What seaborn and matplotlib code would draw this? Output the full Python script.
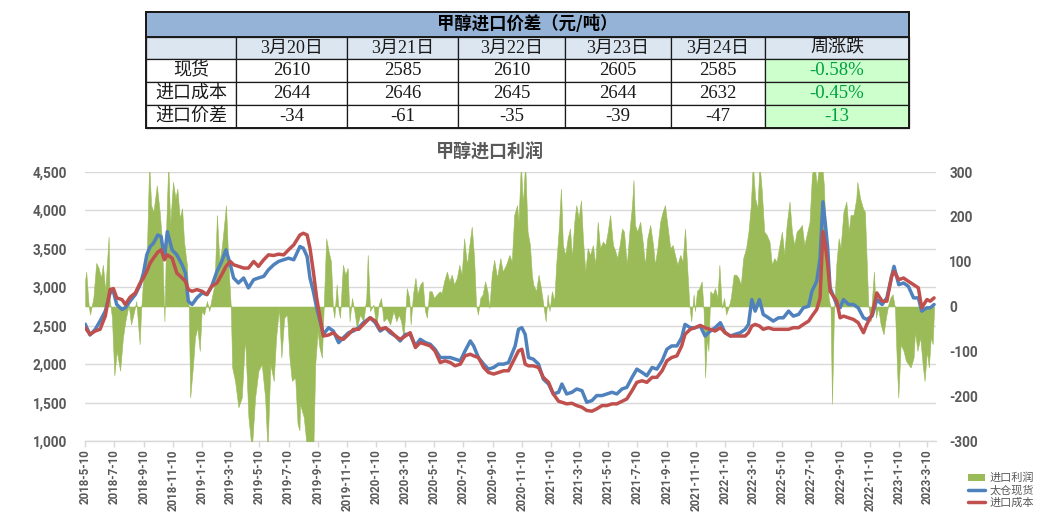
import numpy as np
import pandas as pd
import matplotlib
matplotlib.use('Agg')
import matplotlib.pyplot as plt
import matplotlib.dates as mdates
from matplotlib.patches import Rectangle
from matplotlib.lines import Line2D
from matplotlib.ticker import FuncFormatter, FixedLocator
import seaborn as sns

# ---------------- table data ----------------
table_title = '甲醇进口价差（元/吨）'
hdr_dates = ['3月20日', '3月21日', '3月22日', '3月23日', '3月24日']
hdr_chg = '周涨跌'
row_names = ['现货', '进口成本', '进口价差']
spot_vals = [2610, 2585, 2610, 2605, 2585]
cost_vals = [2644, 2646, 2645, 2644, 2632]
spread_vals = [-34, -61, -35, -39, -47]
week_chg = ['-0.58%', '-0.45%', '-13']

# ---------------- chart data ----------------
chart_title = '甲醇进口利润'
start_date = '2018-05-10'
legend_names = ['进口利润', '太仓现货', '进口成本']

# days after start_date for the two price lines
line_day = [0, 10, 21, 31, 42, 52, 59, 66, 77, 84, 94, 105, 115, 122, 129, 136, 143, 152, 159, 166,
            172, 182, 192, 203, 210, 216, 224, 234, 245, 255, 265, 276, 286, 295, 304, 311, 321, 332, 342, 353,
            363, 374, 384, 395, 405, 416, 426, 437,
            450, 457, 465, 471, 478, 485, 492, 499, 510, 520, 531, 541, 552, 562, 573, 583, 597, 608, 618, 629,
            639, 650, 660, 671, 681, 692, 702, 713, 723, 733, 744, 754, 765, 775, 786, 796, 807, 814, 824, 835,
            845, 856, 866, 877, 887,
            901, 908, 915, 922, 929, 939, 950, 960, 971, 981, 992, 999, 1009, 1020, 1030, 1041, 1051, 1062, 1072, 1083,
            1093, 1104, 1114, 1125, 1135, 1146, 1156, 1167, 1177, 1188, 1198, 1209, 1219, 1229, 1240, 1250, 1257, 1268,
            1278, 1289, 1299, 1310,
            1320, 1331, 1341, 1352, 1362, 1373, 1383, 1390, 1397, 1404, 1413, 1421, 1432, 1442, 1453, 1463, 1474, 1484,
            1495, 1505, 1516, 1523, 1533, 1540, 1546, 1551, 1556, 1561, 1568, 1575, 1582, 1589, 1600, 1610, 1620, 1631,
            1638, 1649, 1659, 1670, 1680, 1690, 1695, 1705, 1715, 1725, 1736, 1746, 1753, 1764, 1771, 1779]

spot = [2520, 2379, 2453, 2560, 2690, 2927, 2948, 2776, 2711, 2733, 2819, 2905, 3034, 3185, 3422, 3530, 3573, 3681, 3659, 3379,
        3724, 3487, 3422, 3293, 3185, 2819, 2776, 2862, 2927, 2905, 3013, 3207, 3336, 3487, 3293, 3121, 3056, 3121, 2992, 3099,
        3121, 3142, 3228, 3293, 3336, 3358, 3379, 3358,
        3530, 3509, 3401, 3121, 2948, 2733, 2560, 2388, 2474, 2431, 2280, 2345, 2409, 2431, 2474, 2539, 2603, 2539, 2431, 2474,
        2409, 2366, 2302, 2388, 2388, 2237, 2323, 2280, 2259, 2194, 2086, 2086, 2086, 2065, 2043, 2172, 2302, 2237, 2086, 2000,
        1935, 1957, 2000, 2000, 2021,
        2237, 2453, 2474, 2388, 2086, 2065, 2000, 1806, 1741, 1612, 1634, 1741, 1612, 1634, 1677, 1655, 1504, 1526, 1591, 1591,
        1612, 1634, 1612, 1677, 1698, 1828, 1935, 1892, 1849, 1957, 1935, 2043, 2194, 2237, 2237, 2345, 2517, 2474,
        2474, 2496, 2366, 2431,
        2474, 2539, 2409, 2366, 2388, 2409, 2453, 2517, 2840, 2690, 2840, 2647, 2603, 2560, 2603, 2603, 2690, 2625,
        2647, 2733, 2754, 2948, 3078, 3379, 4112, 3832, 3509, 2992, 2884, 2776, 2733, 2840, 2776, 2776, 2733, 2603,
        2582, 2625, 2840, 2776, 2862, 3142, 3272, 3034, 3056, 3013, 2862, 2862, 2690, 2733, 2733, 2776]

cost = [2474, 2388, 2431, 2453, 2625, 2970, 2983, 2862, 2840, 2776, 2871, 2927, 3056, 3121, 3207, 3315, 3379, 3457, 3487, 3358,
        3422, 3379, 3185, 3121, 3078, 2970, 2948, 2970, 2948, 2905, 3013, 3056, 3164, 3272, 3336, 3293, 3272, 3250, 3250, 3336,
        3272, 3358, 3422, 3414, 3431, 3422, 3487, 3552,
        3681, 3703, 3681, 3509, 3207, 2862, 2603, 2366, 2379, 2409, 2345, 2323, 2388, 2453, 2453, 2517, 2603, 2560, 2453, 2474,
        2431, 2366, 2323, 2366, 2409, 2216, 2280, 2259, 2237, 2172, 2021, 2043, 2021, 1979, 2000, 2108, 2129, 2108, 2086, 1957,
        1892, 1871, 1892, 1914, 1914,
        2086, 2172, 2194, 2000, 1978, 1978, 1957, 1828, 1763, 1612, 1517, 1504, 1483, 1491, 1461, 1439, 1397, 1388, 1418, 1461,
        1461, 1483, 1483, 1517, 1547, 1655, 1763, 1784, 1763, 1828, 1828, 1914, 2043, 2086, 2108, 2237, 2388, 2453,
        2474, 2504, 2474, 2453,
        2431, 2474, 2409, 2366, 2366, 2366, 2366, 2409, 2496, 2517, 2496, 2453, 2474, 2453, 2453, 2453, 2453, 2474,
        2474, 2517, 2560, 2625, 2711, 2862, 3724, 3552, 3293, 2948, 2884, 2819, 2603, 2625, 2603, 2582, 2539, 2409,
        2517, 2647, 2927, 2819, 2819, 3142, 3207, 3099, 3121, 3078, 3034, 2992, 2733, 2840, 2819, 2862]

# days after start_date for the import profit (right axis)
profit_day = [0, 2, 7, 10, 17, 23, 28, 33, 37, 42, 49, 51, 56, 61, 66, 73, 79, 84, 91, 96, 101, 107, 114, 117, 122, 129,
              134, 138, 143, 150, 156, 161, 166, 170, 174, 178, 184, 189, 193, 198, 203, 207, 213, 217, 220, 226, 230,
              235, 240, 244, 249, 255, 260, 265, 271, 276, 281, 286, 291, 295, 300, 305, 308, 314, 321, 328, 335, 342,
              349, 356, 363, 370, 377, 382, 388, 395, 400, 406, 411, 417, 423, 428, 433, 440, 445, 449,
              450, 458, 465, 472, 478, 482, 487, 491, 496, 499, 505, 510, 515, 519, 522, 527, 531, 534, 540, 545, 550,
              554, 559, 564, 569, 576, 583, 589, 592, 597, 604, 610, 615, 620, 625, 632, 639, 646, 652, 657, 662, 667,
              671, 674, 679, 682, 687, 692, 696, 702, 707, 712, 716, 721, 726, 731, 737, 743, 747, 752, 758, 763, 768,
              773, 779, 784, 789, 794, 800, 805, 810, 815, 819, 823, 828, 833, 838, 843, 847, 852, 857, 863,
              870, 875, 882, 889, 894, 899, 905, 908, 913, 917, 922, 927, 932, 936, 939, 945, 950, 955, 960, 965, 969,
              973, 978, 983, 987, 992, 997, 1001, 1006, 1011, 1016, 1020, 1025, 1029, 1034, 1039, 1043, 1048, 1053,
              1058, 1064, 1069, 1074, 1079, 1085, 1090, 1095, 1100, 1106, 1111, 1115, 1120, 1125, 1129, 1135, 1141,
              1146, 1149, 1152, 1157, 1163, 1169, 1173, 1178, 1184, 1190, 1194, 1199, 1205, 1210, 1215, 1220, 1226,
              1231, 1236, 1241, 1247, 1252, 1257, 1262, 1266, 1270, 1275, 1278, 1282, 1287, 1292, 1296, 1299, 1303, 1306,
              1310, 1315, 1320, 1325, 1329, 1334, 1339, 1343, 1348, 1353, 1359, 1364, 1369, 1374, 1379, 1385, 1390,
              1395, 1399, 1404, 1409, 1413, 1418, 1423, 1428, 1434, 1439, 1444, 1449, 1455, 1460, 1465, 1470, 1476,
              1481, 1486, 1491, 1497, 1502, 1507, 1512, 1518, 1523, 1528, 1533, 1539, 1544, 1548, 1554, 1558, 1562,
              1565, 1569, 1574, 1579, 1583, 1589, 1595, 1600, 1604, 1610, 1616, 1618, 1624, 1630, 1634, 1638, 1641,
              1646, 1650, 1653, 1657, 1662, 1667, 1673, 1678, 1683, 1687, 1692, 1697, 1701, 1704, 1709, 1715, 1720,
              1725, 1730, 1736, 1739, 1744, 1750, 1755, 1759, 1764, 1768, 1772, 1776, 1779]

profit = [60, 78, 4, -18, 19, 97, 86, 64, 93, 34, 156, 19, -25, -154, -99, -143, -69, -33, 4, -40, -18, 12, -84, -10, 71, 115,
          320, 226, 211, 270, 211, 145, -33, 189, 320, 182, 278, 241, 263, 197, 219, 145, 93, -3, -203, -129, -69,
          -47, -99, -10, -18, 12, -10, 19, 49, 204, 100, 130, 182, 226, 93, 0, -136, -166, -225, -203, -69, -247,
          -320, -203, -143, -129, -203, -320, -129, -166, -69, -3, -114, -25, -18, -114, -166, -158, -262, -276,
          -217, -247, -320, -320, -320, -129, -55, -92, -114, -25, 152, 123, 100, -3, -25, 49, -10, -25, 93, 71, 86,
          -33, 19, -10, -47, -18, -33, 19, 115, -10, 4, -47, 4, 19, -33, -25, -40, -10, -33, -18, -33, -69,
          -10, 41, 19, -40, 27, 64, 27, 49, 56, -10, -25, 34, 34, 19, 27, 34, 30, 56, 78, 56, 71,
          49, 64, 93, 71, 152, 93, 137, 178, 108, 4, -18, 19, 27, 56, 34, -3, 71, 104, 64,
          108, 78, 93, 115, 100, 204, 226, 189, 320, 226, 320, 167, 137, 71, 49, 34, 71, 41, 4, -33, 27,
          -10, 34, 12, 93, 167, 263, 137, 115, 152, 174, 108, 189, 226, 197, 237, 152, 78, 130,
          115, 137, 93, 189, 130, 145, 137, 167, 204, 137, 123, 108, 137, 174, 167, 93, 174,
          226, 282, 182, 167, 189, 137, 93, 152, 182, 137, 93, 130, 189, 211, 226, 182, 130,
          137, 115, 93, 115, 100, 174, 78, 4, -33, 27, -10, 34, 41, 56, -10, -158, -69, -99,
          34, 27, 41, 19, 93, -3, 19, -18, -3, 19, 71, 71, 64, 49, 108, 130, 167,
          226, 320, 241, 219, 320, 256, 167, 160, 145, 93, 108, 100, 137, 167, 115, 182, 234,
          167, 137, 167, 174, 182, 137, 160, 189, 293, 320, 270, 320, 320, 270, 93, 19, -3,
          -217, -18, 93, 152, 130, 211, 234, 167, 204, 204, 241, 278, 241, 219, 211, 93, 4,
          -33, 34, 78, -25, -3, -40, -62, -25, 4, 19, 27, -3, -129, -203, -84, -99, -121,
          -129, -136, -114, -55, -99, -69, -129, -166, -99, -136, -69, -84, -3]

left_ticks = [1000, 1500, 2000, 2500, 3000, 3500, 4000, 4500]
right_ticks = [-300, -200, -100, 0, 100, 200, 300]

# ---------------- styling ----------------
sns.set_theme(style='white')
plt.rcParams['font.family'] = ['Roboto', 'Noto Sans CJK SC', 'DejaVu Sans']
plt.rcParams['axes.unicode_minus'] = False

W, H = 1041, 515
fig = plt.figure(figsize=(W / 100, H / 100), dpi=100)


def fx(x):
    return x / W


def fy(y):
    return 1 - y / H


TXT = '#595959'
BLUE = '#4F81BD'
RED = '#C0504D'
GREEN = '#9BBB59'
GRID = '#D9D9D9'

# ---------------- table ----------------
col_edges = [146, 236, 347, 458, 565, 671, 765, 909]
row_edges = [12, 37, 59, 82, 105, 128]
tab_font = ['Liberation Serif', 'Noto Sans CJK SC']


def cell(c0, c1, r0, r1, fc, lw=0.9):
    x0, x1 = col_edges[c0], col_edges[c1]
    y0, y1 = row_edges[r0], row_edges[r1]
    fig.add_artist(Rectangle((fx(x0), fy(y1)), fx(x1) - fx(x0), fy(y0) - fy(y1),
                             transform=fig.transFigure, facecolor=fc, edgecolor='#1a1a1a', lw=lw))
    return (fx((x0 + x1) / 2), fy((y0 + y1) / 2))


cx, cy = cell(0, 7, 0, 1, '#95B3D7', lw=1.4)
fig.text(cx, cy, table_title, ha='center', va='center', fontsize=12.5, fontweight='bold',
         color='black', family=['Noto Sans CJK SC'])

cx, cy = cell(0, 1, 1, 2, '#DCE6F1')
for i, d in enumerate(hdr_dates):
    cx, cy = cell(i + 1, i + 2, 1, 2, '#DCE6F1')
    fig.text(cx, cy, d, ha='center', va='center', fontsize=13, color='#1a1a1a', family=tab_font)
cx, cy = cell(6, 7, 1, 2, '#DCE6F1')
fig.text(cx, cy, hdr_chg, ha='center', va='center', fontsize=13, color='#1a1a1a', family=tab_font)

rows = [spot_vals, cost_vals, spread_vals]
for r, (name, vals) in enumerate(zip(row_names, rows)):
    cx, cy = cell(0, 1, r + 2, r + 3, 'white')
    fig.text(cx, cy, name, ha='center', va='center', fontsize=13, color='#1a1a1a', family=tab_font)
    for i, v in enumerate(vals):
        cx, cy = cell(i + 1, i + 2, r + 2, r + 3, 'white')
        fig.text(cx, cy, str(v), ha='center', va='center', fontsize=13.5, color='#1a1a1a', family=tab_font)
    cx, cy = cell(6, 7, r + 2, r + 3, '#CCFFCC')
    fig.text(cx, cy, week_chg[r], ha='center', va='center', fontsize=13.5, color='#00A040', family=tab_font)

# outer border
fig.add_artist(Rectangle((fx(col_edges[0]), fy(row_edges[-1])), fx(col_edges[-1]) - fx(col_edges[0]),
                         fy(row_edges[0]) - fy(row_edges[-1]), transform=fig.transFigure,
                         facecolor='none', edgecolor='#1a1a1a', lw=1.4))

# ---------------- chart ----------------
start = pd.Timestamp(start_date)
line_dates = start + pd.to_timedelta(line_day, unit='D')
profit_dates = start + pd.to_timedelta(profit_day, unit='D')
df_lines = pd.DataFrame({'date': line_dates, 'spot': spot, 'cost': cost})

pos = [fx(85), fy(441), fx(936) - fx(85), fy(172) - fy(441)]
ax = fig.add_axes(pos)                       # grid, left scale, x axis
ax_r = ax.twinx()                            # import profit, right scale
ax_l = fig.add_axes(pos, sharex=ax, sharey=ax)  # price lines on top
ax.set_zorder(1)
ax_r.set_zorder(2)
ax_l.set_zorder(3)
ax_r.patch.set_visible(False)
ax_l.patch.set_visible(False)

ax_r.fill_between(profit_dates, 0, profit, color=GREEN, lw=0.4, edgecolor=GREEN)
ax_r.set_ylim(-300, 300)
ax_r.yaxis.set_major_locator(FixedLocator(right_ticks))
ax_r.yaxis.set_major_formatter(FuncFormatter(lambda v, p: f'{int(v)}'))

sns.lineplot(data=df_lines, x='date', y='spot', ax=ax_l, color=BLUE, lw=2.5, legend=False)
sns.lineplot(data=df_lines, x='date', y='cost', ax=ax_l, color=RED, lw=2.5, legend=False)

ax.set_ylim(1000, 4500)
ax.yaxis.set_major_locator(FixedLocator(left_ticks))
ax.yaxis.set_major_formatter(FuncFormatter(lambda v, p: f'{int(v):,}'))
ax.set_xlim(start - pd.Timedelta(days=0.5), start + pd.Timedelta(days=1783))
ax.xaxis.set_major_locator(mdates.MonthLocator(bymonth=(1, 3, 5, 7, 9, 11), bymonthday=10))


def date_fmt(v, p):
    d = mdates.num2date(v)
    return f'{d.year}-{d.month}-{d.day}'


ax.xaxis.set_major_formatter(FuncFormatter(date_fmt))
ax.yaxis.grid(True, color=GRID, lw=1)
ax.xaxis.grid(False)

for a in (ax, ax_r, ax_l):
    for s in a.spines.values():
        s.set_visible(False)
ax.spines['bottom'].set_visible(True)
ax.spines['bottom'].set_color(GRID)
ax.spines['bottom'].set_linewidth(1)

ax_l.axis('off')
ax_l.set_xlabel('')
ax_l.set_ylabel('')
ax.set_xlabel('')
ax.set_ylabel('')
ax_r.set_ylabel('')

ax.tick_params(axis='x', which='major', direction='out', length=4, width=1, color=GRID, pad=2,
               labelsize=8.3, labelcolor=TXT, labelrotation=90, bottom=True)
ax.tick_params(axis='y', length=0, pad=13, labelsize=9.8, labelcolor=TXT, left=True)
ax_r.tick_params(axis='y', length=0, pad=9.5, labelsize=9.8, labelcolor=TXT, right=True)
for lab in ax.get_xticklabels() + ax.get_yticklabels() + ax_r.get_yticklabels():
    lab.set_fontweight('bold')

fig.text(fx(490), fy(152), chart_title, ha='center', va='center', fontsize=13, fontweight='bold',
         color=TXT, family=['Noto Sans CJK SC'])

# legend in the free lower-right corner
legend_handles = [Rectangle((0, 0), 1, 1, facecolor=GREEN, edgecolor='none'),
                  Line2D([0], [0], color=BLUE, lw=2.5),
                  Line2D([0], [0], color=RED, lw=2.5)]
fig.legend(legend_handles, legend_names, loc='lower right', bbox_to_anchor=(1.0, 0.0),
           frameon=False, fontsize=8, labelcolor=TXT, handlelength=1.6, handletextpad=0.4,
           borderaxespad=0.2, labelspacing=0.2, prop={'family': ['Noto Sans CJK SC'], 'size': 8})

fig.savefig('out.png', dpi=100)
